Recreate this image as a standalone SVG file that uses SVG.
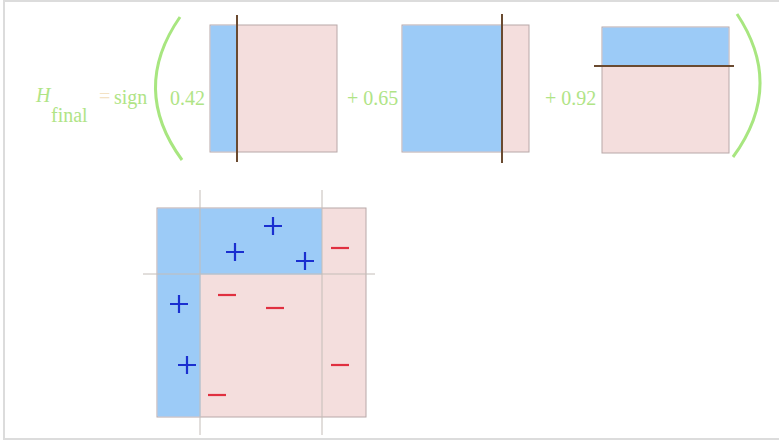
<svg xmlns="http://www.w3.org/2000/svg" width="779" height="441" viewBox="0 0 779 441">
<style>
.t{font-family:"Liberation Serif",serif;font-size:20px;fill:#b0e486}
.pink{fill:#f4dedd;stroke:#b8a8a8;stroke-width:1}
.nb{fill:#9ccbf7}
.cut{stroke:#6a4a30;stroke-width:2}
.grid{stroke:#c4bdb8;stroke-width:1;fill:none}
.paren{fill:none;stroke:#a8e680;stroke-width:3}
.plus{stroke:#1a2fd0;stroke-width:2.2;fill:none}
.minus{stroke:#e03040;stroke-width:2.2;fill:none}
</style>
<rect x="0" y="0" width="779" height="441" fill="#fff"/>
<rect x="4" y="1" width="776" height="438" fill="none" stroke="#dcdcdc" stroke-width="2"/>

<g id="formula">
<text class="t" x="36" y="102" font-style="italic" font-size="19">H</text>
<text class="t" x="51" y="122" font-size="16">final</text>
<text class="t" x="99" y="103" style="fill:#f3e2c4">=</text>
<text class="t" x="114" y="104">sign</text>
<text class="t" x="170" y="105">0.42</text>
<text class="t" x="347" y="105">+ 0.65</text>
<text class="t" x="545" y="105">+ 0.92</text>
<path class="paren" d="M180,17 Q130,89 182,160"/>
<path class="paren" d="M737,14 Q785,86 733,157"/>
</g>

<g id="stump1">
<rect class="pink" x="210" y="25" width="127" height="127"/>
<rect class="nb" x="210.5" y="25.5" width="27" height="126"/>
<line class="cut" x1="237" y1="15" x2="237" y2="162"/>
</g>

<g id="stump2">
<rect class="pink" x="402" y="25" width="127" height="127"/>
<rect class="nb" x="402.5" y="25.5" width="100" height="126"/>
<line class="cut" x1="502" y1="14" x2="502" y2="163"/>
</g>

<g id="stump3">
<rect class="pink" x="602" y="27" width="127" height="126"/>
<rect class="nb" x="602.5" y="27.5" width="126" height="39"/>
<line class="cut" x1="594" y1="66" x2="734" y2="66"/>
</g>

<g id="final">
<rect class="pink" x="157" y="208" width="209" height="209"/>
<rect class="nb" x="157.5" y="208.5" width="43" height="208"/>
<rect class="nb" x="200" y="208.5" width="122" height="66"/>
<g class="grid">
<line x1="200" y1="190" x2="200" y2="435"/>
<line x1="322" y1="190" x2="322" y2="435"/>
<line x1="143" y1="274" x2="375" y2="274"/>
</g>
<g class="plus">
<path d="M264,226h18M273,217v18"/>
<path d="M226,252h18M235,243v18"/>
<path d="M296,261h18M305,252v18"/>
<path d="M170,304h18M179,295v18"/>
<path d="M178,365h18M187,356v18"/>
</g>
<g class="minus">
<path d="M331,248h18"/>
<path d="M218,295h18"/>
<path d="M266,308h18"/>
<path d="M331,365h18"/>
<path d="M208,395h18"/>
</g>
</g>
</svg>
